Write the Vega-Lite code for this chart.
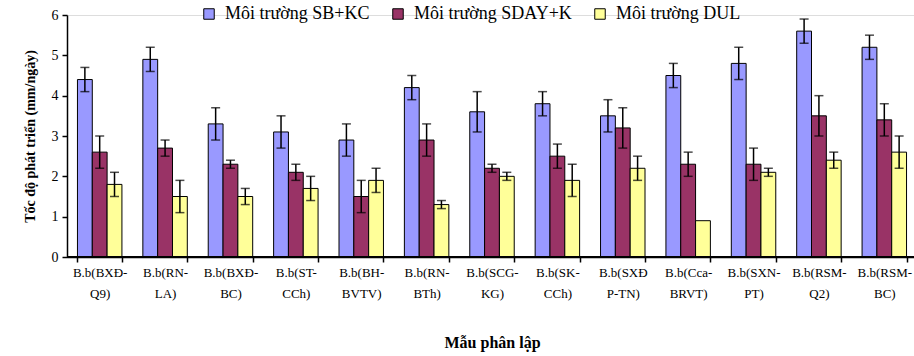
{
  "$schema": "https://vega.github.io/schema/vega-lite/v6.json",
  "autosize": {"type": "none"},
  "padding": {"left": 67, "top": 15, "right": 0, "bottom": 99},
  "width": 850,
  "height": 242,
  "background": "white",
  "data": {"values": [
    {"sample": "B.b(BXĐ-\nQ9)", "env": "Môi trường SB+KC", "value": 4.4, "lo": 4.1, "hi": 4.7},
    {"sample": "B.b(BXĐ-\nQ9)", "env": "Môi trường SDAY+K", "value": 2.6, "lo": 2.2, "hi": 3.0},
    {"sample": "B.b(BXĐ-\nQ9)", "env": "Môi trường DUL", "value": 1.8, "lo": 1.5, "hi": 2.1},
    {"sample": "B.b(RN-\nLA)", "env": "Môi trường SB+KC", "value": 4.9, "lo": 4.6, "hi": 5.2},
    {"sample": "B.b(RN-\nLA)", "env": "Môi trường SDAY+K", "value": 2.7, "lo": 2.5, "hi": 2.9},
    {"sample": "B.b(RN-\nLA)", "env": "Môi trường DUL", "value": 1.5, "lo": 1.1, "hi": 1.9},
    {"sample": "B.b(BXĐ-\nBC)", "env": "Môi trường SB+KC", "value": 3.3, "lo": 2.9, "hi": 3.7},
    {"sample": "B.b(BXĐ-\nBC)", "env": "Môi trường SDAY+K", "value": 2.3, "lo": 2.2, "hi": 2.4},
    {"sample": "B.b(BXĐ-\nBC)", "env": "Môi trường DUL", "value": 1.5, "lo": 1.3, "hi": 1.7},
    {"sample": "B.b(ST-\nCCh)", "env": "Môi trường SB+KC", "value": 3.1, "lo": 2.7, "hi": 3.5},
    {"sample": "B.b(ST-\nCCh)", "env": "Môi trường SDAY+K", "value": 2.1, "lo": 1.9, "hi": 2.3},
    {"sample": "B.b(ST-\nCCh)", "env": "Môi trường DUL", "value": 1.7, "lo": 1.4, "hi": 2.0},
    {"sample": "B.b(BH-\nBVTV)", "env": "Môi trường SB+KC", "value": 2.9, "lo": 2.5, "hi": 3.3},
    {"sample": "B.b(BH-\nBVTV)", "env": "Môi trường SDAY+K", "value": 1.5, "lo": 1.1, "hi": 1.9},
    {"sample": "B.b(BH-\nBVTV)", "env": "Môi trường DUL", "value": 1.9, "lo": 1.6, "hi": 2.2},
    {"sample": "B.b(RN-\nBTh)", "env": "Môi trường SB+KC", "value": 4.2, "lo": 3.9, "hi": 4.5},
    {"sample": "B.b(RN-\nBTh)", "env": "Môi trường SDAY+K", "value": 2.9, "lo": 2.5, "hi": 3.3},
    {"sample": "B.b(RN-\nBTh)", "env": "Môi trường DUL", "value": 1.3, "lo": 1.2, "hi": 1.4},
    {"sample": "B.b(SCG-\nKG)", "env": "Môi trường SB+KC", "value": 3.6, "lo": 3.1, "hi": 4.1},
    {"sample": "B.b(SCG-\nKG)", "env": "Môi trường SDAY+K", "value": 2.2, "lo": 2.1, "hi": 2.3},
    {"sample": "B.b(SCG-\nKG)", "env": "Môi trường DUL", "value": 2.0, "lo": 1.9, "hi": 2.1},
    {"sample": "B.b(SK-\nCCh)", "env": "Môi trường SB+KC", "value": 3.8, "lo": 3.5, "hi": 4.1},
    {"sample": "B.b(SK-\nCCh)", "env": "Môi trường SDAY+K", "value": 2.5, "lo": 2.2, "hi": 2.8},
    {"sample": "B.b(SK-\nCCh)", "env": "Môi trường DUL", "value": 1.9, "lo": 1.5, "hi": 2.3},
    {"sample": "B.b(SXĐ\nP-TN)", "env": "Môi trường SB+KC", "value": 3.5, "lo": 3.1, "hi": 3.9},
    {"sample": "B.b(SXĐ\nP-TN)", "env": "Môi trường SDAY+K", "value": 3.2, "lo": 2.7, "hi": 3.7},
    {"sample": "B.b(SXĐ\nP-TN)", "env": "Môi trường DUL", "value": 2.2, "lo": 1.9, "hi": 2.5},
    {"sample": "B.b(Cca-\nBRVT)", "env": "Môi trường SB+KC", "value": 4.5, "lo": 4.2, "hi": 4.8},
    {"sample": "B.b(Cca-\nBRVT)", "env": "Môi trường SDAY+K", "value": 2.3, "lo": 2.0, "hi": 2.6},
    {"sample": "B.b(Cca-\nBRVT)", "env": "Môi trường DUL", "value": 0.9, "lo": null, "hi": null},
    {"sample": "B.b(SXN-\nPT)", "env": "Môi trường SB+KC", "value": 4.8, "lo": 4.4, "hi": 5.2},
    {"sample": "B.b(SXN-\nPT)", "env": "Môi trường SDAY+K", "value": 2.3, "lo": 1.9, "hi": 2.7},
    {"sample": "B.b(SXN-\nPT)", "env": "Môi trường DUL", "value": 2.1, "lo": 2.0, "hi": 2.2},
    {"sample": "B.b(RSM-\nQ2)", "env": "Môi trường SB+KC", "value": 5.6, "lo": 5.3, "hi": 5.9},
    {"sample": "B.b(RSM-\nQ2)", "env": "Môi trường SDAY+K", "value": 3.5, "lo": 3.0, "hi": 4.0},
    {"sample": "B.b(RSM-\nQ2)", "env": "Môi trường DUL", "value": 2.4, "lo": 2.2, "hi": 2.6},
    {"sample": "B.b(RSM-\nBC)", "env": "Môi trường SB+KC", "value": 5.2, "lo": 4.9, "hi": 5.5},
    {"sample": "B.b(RSM-\nBC)", "env": "Môi trường SDAY+K", "value": 3.4, "lo": 3.0, "hi": 3.8},
    {"sample": "B.b(RSM-\nBC)", "env": "Môi trường DUL", "value": 2.6, "lo": 2.2, "hi": 3.0}
  ]},
  "layer": [
    {
      "mark": {"type": "bar", "stroke": "black", "strokeWidth": 1},
      "encoding": {
        "x": {
          "field": "sample", "type": "nominal", "sort": null,
          "scale": {"paddingInner": 0.32, "paddingOuter": 0.16},
          "axis": {
            "title": "Mẫu phân lập", "titleFont": "Liberation Serif", "titleFontSize": 16, "titleFontWeight": "bold", "titlePadding": 34, "titleColor": "black",
            "labelFont": "Liberation Serif", "labelColor": "black",
            "labelAngle": 0, "labelFontSize": 13, "labelExpr": "split(datum.label, '\\n')", "labelLineHeight": 21,
            "tickBand": "extent", "labelPadding": 4, "tickSize": 5, "labelFlush": false, "labelOverlap": false, "labelBound": false,
            "domain": true, "ticks": true, "domainColor": "black", "domainWidth": 1.5, "tickColor": "black", "tickWidth": 1.5, "grid": false
          }
        },
        "xOffset": {"field": "env", "type": "nominal", "sort": ["Môi trường SB+KC", "Môi trường SDAY+K", "Môi trường DUL"], "scale": {"paddingInner": 0, "paddingOuter": 0}},
        "y": {
          "field": "value", "type": "quantitative",
          "scale": {"domain": [0, 6], "nice": false},
          "axis": {"title": "Tốc độ phát triển (mm/ngày)", "titleFont": "Liberation Serif", "titleFontSize": 14, "titleFontWeight": "bold", "titlePadding": 14, "titleColor": "black",
                   "labelFont": "Liberation Serif", "labelColor": "black",
                   "values": [0, 1, 2, 3, 4, 5, 6], "labelFontSize": 14, "tickSize": 5, "labelPadding": 4,
                   "domain": true, "ticks": true, "domainColor": "black", "domainWidth": 1.5, "tickColor": "black", "tickWidth": 1.5, "grid": false}
        },
        "color": {
          "field": "env", "type": "nominal",
          "sort": ["Môi trường SB+KC", "Môi trường SDAY+K", "Môi trường DUL"],
          "scale": {"domain": ["Môi trường SB+KC", "Môi trường SDAY+K", "Môi trường DUL"], "range": ["#9999FF", "#993366", "#FFFF99"]},
          "legend": {
            "title": null, "orient": "none", "direction": "horizontal", "legendX": 133, "legendY": -10,
            "symbolType": "square", "symbolSize": 110, "symbolStrokeColor": "black", "symbolStrokeWidth": 1,
            "labelFont": "Liberation Serif", "labelFontSize": 18, "labelColor": "black", "columnPadding": 19, "labelOffset": 7
          }
        }
      }
    },
    {
      "mark": {"type": "rule", "color": "black", "strokeWidth": 1.5},
      "encoding": {
        "x": {"field": "sample", "type": "nominal", "sort": null},
        "xOffset": {"field": "env", "type": "nominal", "sort": ["Môi trường SB+KC", "Môi trường SDAY+K", "Môi trường DUL"]},
        "y": {"field": "lo", "type": "quantitative"},
        "y2": {"field": "hi"}
      }
    },
    {
      "mark": {"type": "tick", "color": "black", "thickness": 1.5, "size": 9},
      "encoding": {
        "x": {"field": "sample", "type": "nominal", "sort": null},
        "xOffset": {"field": "env", "type": "nominal", "sort": ["Môi trường SB+KC", "Môi trường SDAY+K", "Môi trường DUL"]},
        "y": {"field": "lo", "type": "quantitative"}
      }
    },
    {
      "mark": {"type": "tick", "color": "black", "thickness": 1.5, "size": 9},
      "encoding": {
        "x": {"field": "sample", "type": "nominal", "sort": null},
        "xOffset": {"field": "env", "type": "nominal", "sort": ["Môi trường SB+KC", "Môi trường SDAY+K", "Môi trường DUL"]},
        "y": {"field": "hi", "type": "quantitative"}
      }
    },
    {
      "mark": {"type": "rule", "color": "black", "strokeWidth": 1.5},
      "encoding": {"y": {"datum": 0}}
    }
  ]
}
